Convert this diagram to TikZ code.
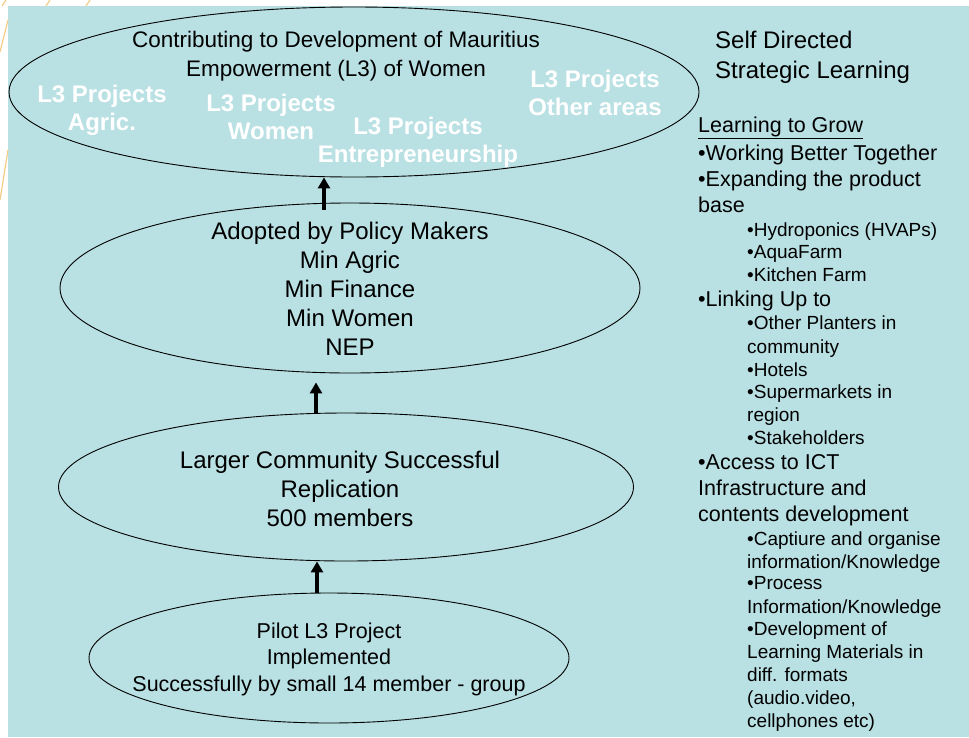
\documentclass[tikz,border=0pt]{standalone}
\usepackage{fontspec}
\setmainfont{Liberation Sans}
\usepackage{tikz}
\definecolor{slideblue}{HTML}{B9E0E3}
\definecolor{tan300}{HTML}{F3CD85}
\usetikzlibrary{shapes.geometric, arrows.meta, calc}
\tikzstyle{stage}=[ellipse, draw=black, line width=0.9pt, inner sep=0pt]
\tikzstyle{stagetext}=[align=center, inner sep=0pt]
\tikzstyle{project}=[align=center, inner sep=0pt, text=white, font=\fontsize{24}{28}\selectfont\bfseries]
\tikzstyle{uparrow}=[line width=3.3pt, -{Triangle[width=12pt,length=11pt]}]
\tikzstyle{item}=[anchor=base west, inner sep=0pt, font=\fontsize{21.5}{26}\selectfont]
\tikzstyle{subitem}=[anchor=base west, inner sep=0pt, font=\fontsize{19}{23}\selectfont]

\begin{document}
\begin{tikzpicture}[x=1pt, y=-1pt]
	\useasboundingbox (0,0) rectangle (969,737);
	\fill[slideblue] (8,6) rectangle (969,737);
	% slide decoration
	\foreach \x in {2,46,86} \draw[tan300, line width=1.2pt] (\x,6) -- (\x+4,0);
	\draw[tan300, line width=1.2pt] (8,20) -- (0,52);
	\draw[tan300, line width=1.2pt] (8,150) -- (0,200);

	\node[stage, minimum width=690pt, minimum height=170pt] (goal) at (354,92) {};
	\node[stagetext, font=\fontsize{22.5}{29}\selectfont] (goaltext) at (336,56) {Contributing to Development of Mauritius\\Empowerment (L3) of Women};
	\node[project] (agric) at (102,110) {L3 Projects\\Agric.};
	\node[project] (women) at (271,117) {L3 Projects\\Women};
	\node[project] (entre) at (418,142) {L3 Projects\\Entrepreneurship};
	\node[project] (other) at (595,93) {L3 Projects\\Other areas};

	\node[stage, minimum width=580pt, minimum height=170pt] (pol) at (350,288) {};
	\node[stagetext, font=\fontsize{24}{29}\selectfont] (poltext) at (350,289) {Adopted by Policy Makers\\Min Agric\\Min Finance\\Min Women\\NEP};

	\node[stage, minimum width=575pt, minimum height=148pt] (comm) at (346,487) {};
	\node[stagetext, font=\fontsize{24}{29}\selectfont] (commtext) at (340,489) {Larger Community Successful\\Replication\\500 members};

	\node[stage, minimum width=480pt, minimum height=130pt] (pilot) at (329,658) {};
	\node[stagetext, font=\fontsize{21.5}{26.5}\selectfont] (pilottext) at (329,659) {Pilot L3 Project\\Implemented\\Successfully by small 14 member - group};

	\draw[uparrow] ([shift={(-26,7)}]pol.north) coordinate (a1) -- (a1 |- goal.south);
	\draw[uparrow] ([shift={(-30,0)}]comm.north) coordinate (a2) -- ($(a2 |- pol.south)+(0,9)$);
	\draw[uparrow] ([shift={(-12,0)}]pilot.north) coordinate (a3) -- (a3 |- comm.south);

	% right column
	\node[item, font=\fontsize{24}{28}\selectfont] (self) at (715,48) {Self Directed};
	\node[item, font=\fontsize{24}{28}\selectfont] (strat) at (715,78) {Strategic Learning};
	\node[item] (grow) at (698,132) {\underline{Learning to Grow}};
	\foreach \y/\t [count=\i] in {160/{•Working Better Together}, 186/{•Expanding the product}, 212/base, 306/{•Linking Up to}, 469/{•Access to ICT}, 495/{Infrastructure and}, 521/{contents development}}
		\node[item] (m\i) at (698,\y) {\t};
	\foreach \y/\t [count=\i] in {236/{•Hydroponics (HVAPs)}, 258/{•AquaFarm}, 281/{•Kitchen Farm}, 329/{•Other Planters in}, 353/community, 376/{•Hotels}, 398/{•Supermarkets in}, 421/region, 444/{•Stakeholders}, 545/{•Captiure and organise}, 568/{information/Knowledge}, 589/{•Process}, 613/{Information/Knowledge}, 635/{•Development of}, 658/{Learning Materials in}, 681/{diff. formats}, 704/{(audio.video,}, 727/{cellphones etc)}}
		\node[subitem] (s\i) at (747,\y) {\t};
\end{tikzpicture}
\end{document}
